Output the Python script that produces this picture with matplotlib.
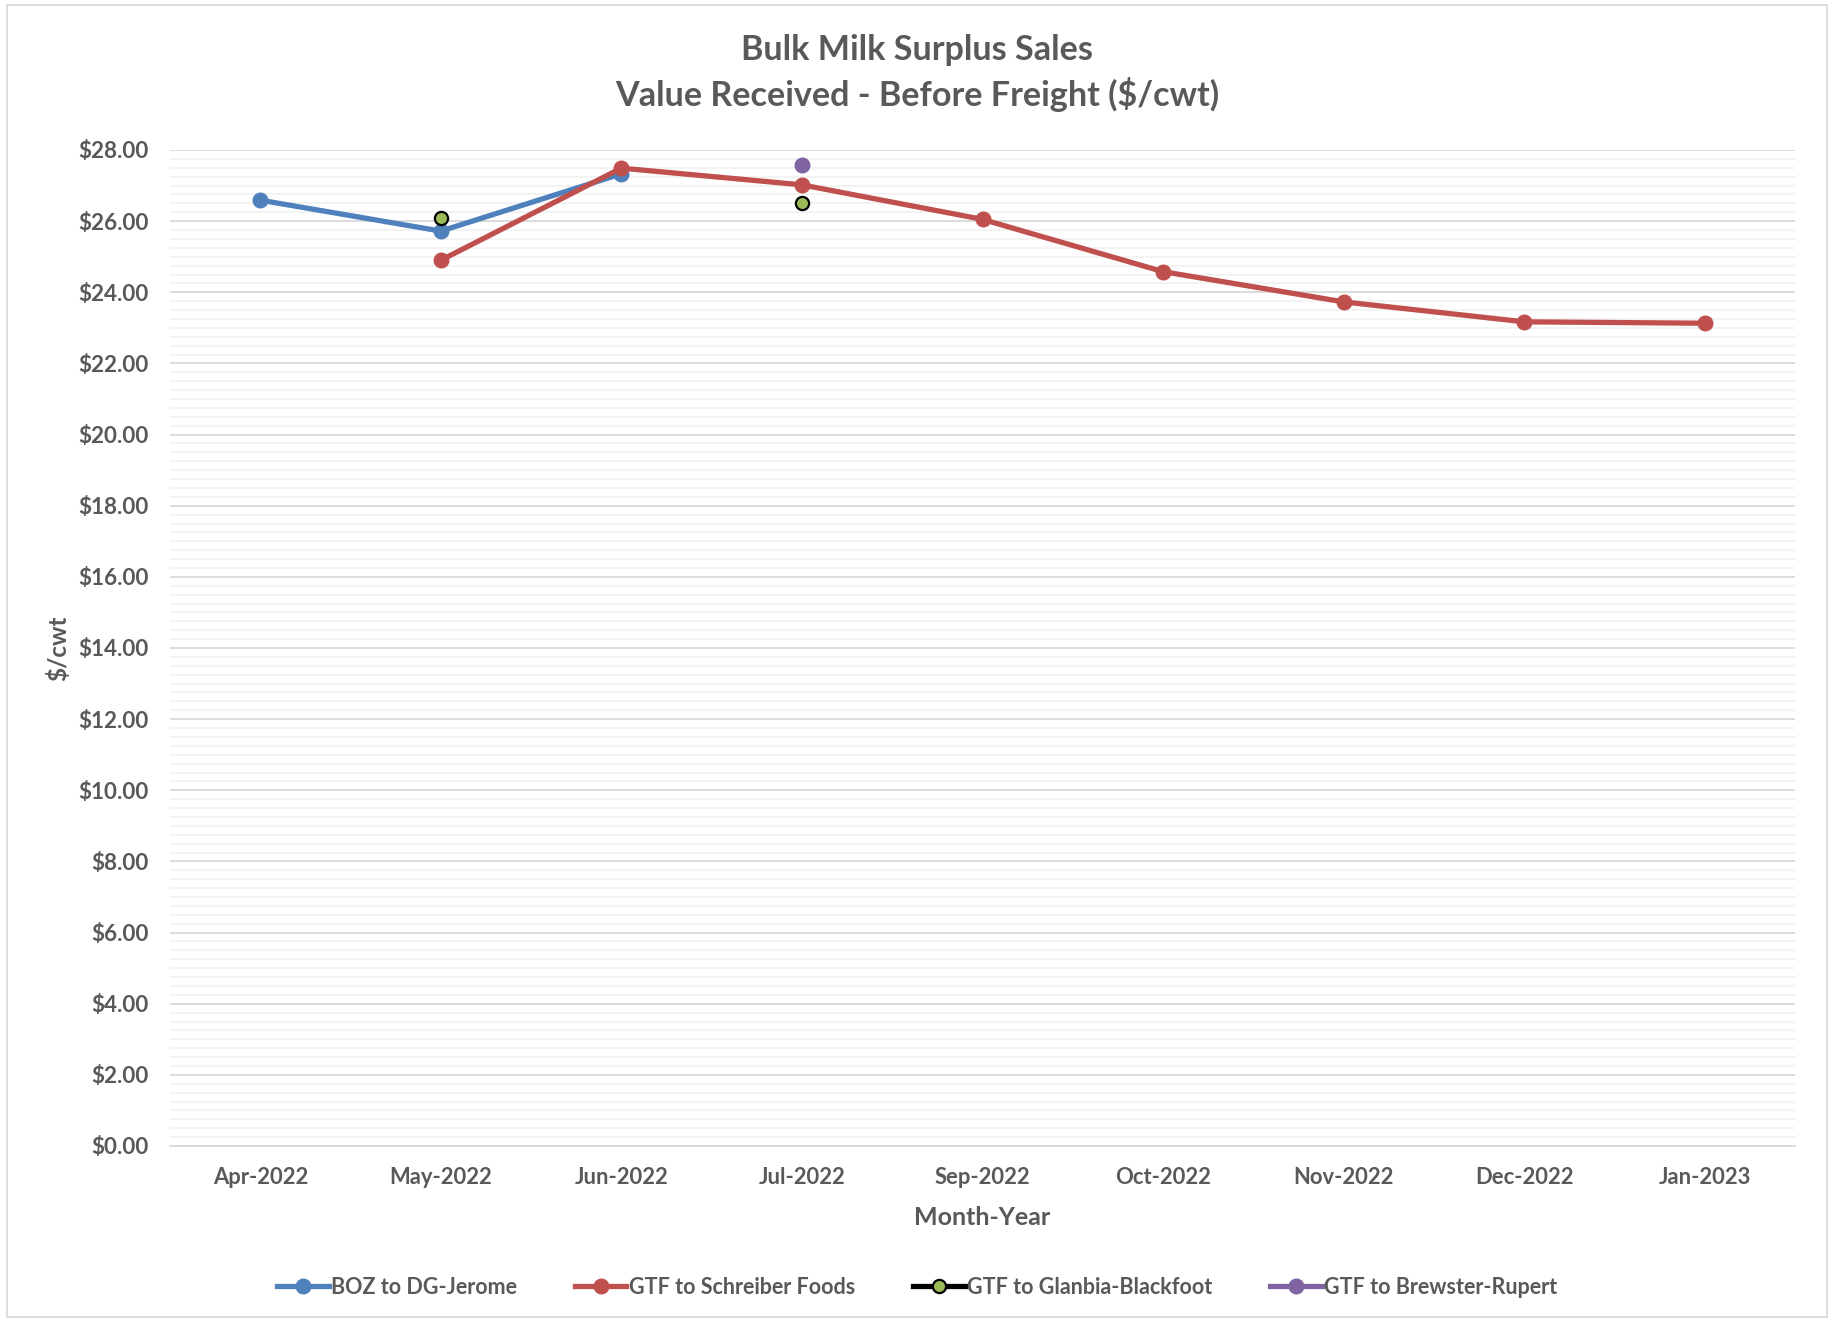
import matplotlib
matplotlib.use("Agg")
import matplotlib.pyplot as plt
from matplotlib.ticker import MultipleLocator, FuncFormatter
from matplotlib.patches import Rectangle
import numpy as np

months = ["Apr-2022", "May-2022", "Jun-2022", "Jul-2022", "Sep-2022",
          "Oct-2022", "Nov-2022", "Dec-2022", "Jan-2023"]
boz_dg_jerome = [26.59, 25.72, 27.33, None, None, None, None, None, None]
gtf_schreiber = [None, 24.90, 27.49, 27.02, 26.05, 24.58, 23.73, 23.17, 23.13]
gtf_glanbia = [None, 26.08, None, 26.52, None, None, None, None, None]
gtf_brewster = [None, None, None, 27.58, None, None, None, None, None]

TEXT = "#595959"
plt.rcParams["font.family"] = ["Lato", "DejaVu Sans"]
plt.rcParams["font.weight"] = "bold"


def arr(vals):
    return np.array([np.nan if v is None else v for v in vals], dtype=float)


def main():
    fig = plt.figure(figsize=(18.34, 13.22), dpi=100)
    ax = fig.add_axes([170 / 1834, 1 - 1146 / 1322, (1795 - 170) / 1834, (1146 - 150) / 1322])

    x = np.arange(len(months))
    ax.plot(x, arr(boz_dg_jerome), "-o", color="#4F81BD", lw=3.8, ms=10.5,
            label="BOZ to DG-Jerome", zorder=3)
    ax.plot(x, arr(gtf_schreiber), "-o", color="#C0504D", lw=3.8, ms=10.5,
            label="GTF to Schreiber Foods", zorder=4)
    ax.plot(x, arr(gtf_glanbia), "-o", color="black", lw=3.8, ms=9.5,
            mfc="#9BBB59", mec="black", mew=1.6,
            label="GTF to Glanbia-Blackfoot", zorder=5)
    ax.plot(x, arr(gtf_brewster), "-o", color="#8064A2", lw=3.8, ms=10.5,
            label="GTF to Brewster-Rupert", zorder=5)

    ax.set_xlim(-0.5, len(months) - 0.5)
    ax.set_ylim(0, 28)
    ax.yaxis.set_major_locator(MultipleLocator(2))
    ax.yaxis.set_minor_locator(MultipleLocator(0.25))
    ax.yaxis.set_major_formatter(FuncFormatter(lambda v, p: f"${v:.2f}"))
    ax.grid(which="major", axis="y", color="#D9D9D9", lw=1.3)
    ax.grid(which="minor", axis="y", color="#F2F2F2", lw=1.3)
    ax.set_axisbelow(True)
    for s in ["top", "right", "left"]:
        ax.spines[s].set_visible(False)
    ax.spines["bottom"].set_color("#D9D9D9")
    ax.spines["bottom"].set_linewidth(1.3)
    ax.tick_params(axis="both", which="both", length=0, labelcolor=TEXT)
    ax.tick_params(axis="y", labelsize=16.2, pad=15)
    ax.set_xticks(x)
    ax.set_xticklabels(months)
    ax.tick_params(axis="x", labelsize=15.8, pad=15)

    ax.set_xlabel("Month-Year", fontsize=18, color=TEXT, fontweight="bold", labelpad=13)
    ax.set_ylabel("$/cwt", fontsize=17.5, color=TEXT, fontweight="bold", labelpad=6)

    fig.text(0.5, 1 - 50 / 1322, "Bulk Milk Surplus Sales", ha="center", va="center",
             fontsize=24.6, color=TEXT, fontweight="bold")
    fig.text(0.5, 1 - 94 / 1322, "Value Received - Before Freight ($/cwt)", ha="center",
             va="center", fontsize=24.6, color=TEXT, fontweight="bold")

    fig.legend(loc="center", bbox_to_anchor=(0.5, 1 - 1287 / 1322), ncol=4, frameon=False,
               fontsize=15.5, labelcolor=TEXT, handlelength=2.4, handletextpad=0.1,
               columnspacing=2.7)

    fig.patches.append(Rectangle((0.004, 0.004), 0.992, 0.992, transform=fig.transFigure,
                                 fill=False, edgecolor="#D9D9D9", lw=1.3))

    fig.savefig("out.png", dpi=100, facecolor="white")


if __name__ == "__main__":
    main()
